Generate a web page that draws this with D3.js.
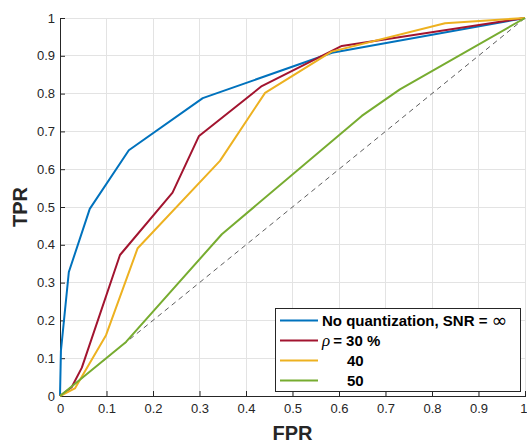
<!DOCTYPE html>
<html><head><meta charset="utf-8">
<script src="https://cdn.jsdelivr.net/npm/d3@7"></script>
<style>body{margin:0;background:#fff}svg{display:block}</style>
</head><body>
<svg id="c" width="527" height="445"></svg>
<script>
const xTicks = [0,0.1,0.2,0.3,0.4,0.5,0.6,0.7,0.8,0.9,1];
const yTicks = [0,0.1,0.2,0.3,0.4,0.5,0.6,0.7,0.8,0.9,1];
const seriesNames = ["No quantization, SNR = ", "\u03C1 = 30 %", "40", "50"];
const seriesColors = ["#0072BD", "#A2142F", "#EDB120", "#77AC30"];
const blueFPR = [0, 0.002, 0.019, 0.064, 0.148, 0.307, 0.585, 1];
const blueTPR = [0, 0.12, 0.328, 0.495, 0.650, 0.788, 0.908, 1];
const redFPR = [0, 0.025, 0.047, 0.129, 0.242, 0.299, 0.434, 0.606, 1];
const redTPR = [0, 0.023, 0.075, 0.373, 0.538, 0.688, 0.820, 0.926, 1];
const yellowFPR = [0, 0.032, 0.099, 0.167, 0.344, 0.441, 0.584, 0.828, 1];
const yellowTPR = [0, 0.020, 0.161, 0.391, 0.622, 0.802, 0.911, 0.986, 1];
const greenFPR = [0, 0.142, 0.348, 0.649, 0.731, 1];
const greenTPR = [0, 0.143, 0.428, 0.741, 0.811, 1];
const chanceLine = [0, 1];

const svg = d3.select("#c");
const L = 60, R = 525, T = 18, B = 396;
const x = d3.scaleLinear().domain([0,1]).range([L,R]);
const y = d3.scaleLinear().domain([0,1]).range([B,T]);
const font = "Liberation Sans, Arial, sans-serif";

// grid
const g = svg.append("g");
g.selectAll(".gx").data(xTicks).join("line")
  .attr("x1", d=>x(d)).attr("x2", d=>x(d)).attr("y1", T).attr("y2", B)
  .attr("stroke", "#e3e3e3").attr("stroke-width", 1).attr("shape-rendering","crispEdges");
g.selectAll(".gy").data(yTicks).join("line")
  .attr("y1", d=>y(d)).attr("y2", d=>y(d)).attr("x1", L).attr("x2", R)
  .attr("stroke", "#e3e3e3").attr("stroke-width", 1).attr("shape-rendering","crispEdges");

// axes
const xAxis = d3.axisBottom(x).tickValues(xTicks).tickSizeInner(-5).tickSizeOuter(0).tickPadding(8)
  .tickFormat(d => d3.format("")(d));
const yAxis = d3.axisLeft(y).tickValues(yTicks).tickSizeInner(-5).tickSizeOuter(0).tickPadding(5)
  .tickFormat(d => d3.format("")(d));
const gx = svg.append("g").attr("transform", `translate(0,${B})`).call(xAxis);
const gy = svg.append("g").attr("transform", `translate(${L},0)`).call(yAxis);
[gx, gy].forEach(a => {
  a.select(".domain").attr("stroke", "#262626").attr("shape-rendering","crispEdges");
  a.selectAll(".tick line").attr("stroke", "#262626");
  a.selectAll("text").attr("font-family", font).attr("font-size", 13).attr("fill", "#262626");
});
gx.selectAll("text").attr("dy", "0.71em");
gx.selectAll(".tick").filter(d => d === 1).select("text").attr("text-anchor", "end").attr("x", 2);

// chance line
const line = d3.line().x(d=>x(d[0])).y(d=>y(d[1]));
svg.append("path").datum(chanceLine.map(v=>[v,v])).attr("d", line)
  .attr("fill","none").attr("stroke","#333").attr("stroke-width",0.8).attr("stroke-dasharray","5,4");

const series = [[blueFPR,blueTPR],[redFPR,redTPR],[yellowFPR,yellowTPR],[greenFPR,greenTPR]];
series.forEach(([fx, ty], i) => {
  svg.append("path").datum(fx.map((v,k)=>[v, ty[k]])).attr("d", line)
    .attr("fill","none").attr("stroke", seriesColors[i]).attr("stroke-width", 2)
    .attr("stroke-linejoin","round");
});

// axis titles
svg.append("text").attr("x", (L+R)/2).attr("y", 440).attr("text-anchor","middle")
  .attr("font-family", font).attr("font-size", 20).attr("font-weight","bold").attr("fill","#262626").text("FPR");
svg.append("text").attr("transform", `translate(27,${(T+B)/2}) rotate(-90)`).attr("text-anchor","middle")
  .attr("font-family", font).attr("font-size", 20).attr("font-weight","bold").attr("fill","#262626").text("TPR");

// legend
const lg = svg.append("g");
lg.append("rect").attr("x", 275.5).attr("y", 308.5).attr("width", 245).attr("height", 83)
  .attr("fill", "#fff").attr("stroke", "#262626").attr("stroke-width", 1);
const rowY = [320.5, 340.5, 360.5, 380.5];
seriesNames.forEach((name, i) => {
  lg.append("line").attr("x1", 280).attr("x2", 318).attr("y1", rowY[i]).attr("y2", rowY[i])
    .attr("stroke", seriesColors[i]).attr("stroke-width", 2);
  const t = lg.append("text").attr("y", rowY[i] + 5).attr("font-family", font).attr("font-size", 15)
    .attr("font-weight", "bold").attr("fill", "#000");
  if (i === 0) {
    t.attr("x", 322);
    t.append("tspan").text(name);
    t.append("tspan").attr("font-weight","normal").attr("font-family","DejaVu Sans, sans-serif").attr("font-size",19).attr("dy",1).text("\u221E");
  } else if (i === 1) {
    t.attr("x", 322);
    t.append("tspan").attr("font-style","italic").attr("font-weight","normal").attr("font-family","Liberation Serif, serif").attr("font-size",17).text("\u03C1");
    t.append("tspan").attr("dx", 3).text("= 30 %");
  } else {
    t.attr("x", 347).text(name);
  }
});
</script>
</body></html>
